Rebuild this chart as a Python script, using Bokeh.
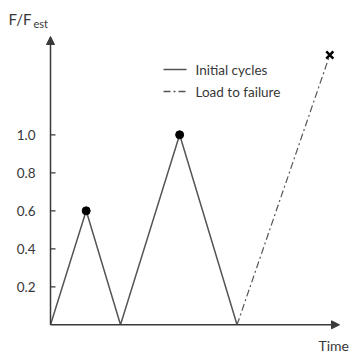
from bokeh.plotting import figure
from bokeh.models import Range1d, Arrow, NormalHead
from bokeh.core.properties import value
from bokeh.embed import file_html
from bokeh.resources import INLINE

# ---- data ----
cycle_time = [0.0, 1.02, 2.0, 3.69, 5.33]
cycle_load = [0.0, 0.6, 0.0, 1.0, 0.0]
peak_time = [1.02, 3.69]
peak_load = [0.6, 1.0]
failure_time = [5.33, 7.98]
failure_load = [0.0, 1.42]
y_ticks = [0.2, 0.4, 0.6, 0.8, 1.0]
y_tick_labels = ["0.2", "0.4", "0.6", "0.8", "1.0"]
legend_labels = ["Initial cycles", "Load to failure"]

W, H = 353, 356
X0PX, Y0PX = 50, 324.3
SX, SY = 35.0, 190.0  # px per unit

def xr(px):
    return (px - X0PX) / SX

def yr(py):
    return (Y0PX - py) / SY

p = figure(width=W, height=H, output_backend="svg", toolbar_location=None,
           x_range=Range1d(xr(0), xr(W)), y_range=Range1d(yr(H), yr(0)),
           min_border=0, min_border_left=0, min_border_right=0,
           min_border_top=0, min_border_bottom=0)
p.axis.visible = False
p.grid.visible = False
p.outline_line_color = None
p.background_fill_color = "white"
p.border_fill_color = "white"

FONT = value("Lato")
AX = "#3a3a3a"
LC = "#555555"
TC = "#383838"

# axes with arrow heads
p.add_layout(Arrow(end=NormalHead(size=8, fill_color=AX, line_color=AX),
                   x_start=0, y_start=0, x_end=0, y_end=yr(36),
                   line_color=AX, line_width=1.5))
p.add_layout(Arrow(end=NormalHead(size=8, fill_color=AX, line_color=AX),
                   x_start=0, y_start=0, x_end=xr(339), y_end=0,
                   line_color=AX, line_width=1.5))

# ticks (inside)
tick_len = 5 / SX
p.segment(x0=[0] * len(y_ticks), y0=y_ticks, x1=[tick_len] * len(y_ticks), y1=y_ticks,
          line_color=AX, line_width=1.2)
p.text(x=[xr(35)] * len(y_ticks), y=y_ticks, text=y_tick_labels,
       text_align="right", text_baseline="middle", text_font=FONT,
       text_font_size="13.5px", text_color=TC)

# series
p.line(cycle_time, cycle_load, line_color=LC, line_width=1.5)
p.scatter(peak_time, peak_load, size=8, color="black")
p.line(failure_time, failure_load, line_color=LC, line_width=1.2, line_dash="7 3 2 3")
p.scatter([failure_time[-1]], [failure_load[-1]], marker="x", size=10,
          line_color="black", line_width=2.5)

# legend (manual)
p.line([xr(163), xr(186)], [yr(69), yr(69)], line_color=LC, line_width=1.3)
p.line([xr(163), xr(187)], [yr(91), yr(91)], line_color=LC, line_width=1.3, line_dash="7 3 2 3")
p.text(x=[xr(195), xr(195)], y=[yr(69), yr(91)], text=legend_labels,
       text_align="left", text_baseline="middle", text_font=FONT,
       text_font_size="13.5px", text_color=TC)

# axis titles
p.text(x=[xr(8)], y=[yr(18)], text=["F/F"], text_align="left", text_baseline="middle",
       text_font=FONT, text_font_size="15px", text_color=TC)
p.text(x=[xr(33)], y=[yr(23)], text=["est"], text_align="left", text_baseline="middle",
       text_font=FONT, text_font_size="11px", text_color=TC)
p.text(x=[xr(318)], y=[yr(345)], text=["Time"], text_align="left", text_baseline="middle",
       text_font=FONT, text_font_size="14px", text_color=TC)

open("out.html", "w").write(file_html(p, INLINE))
